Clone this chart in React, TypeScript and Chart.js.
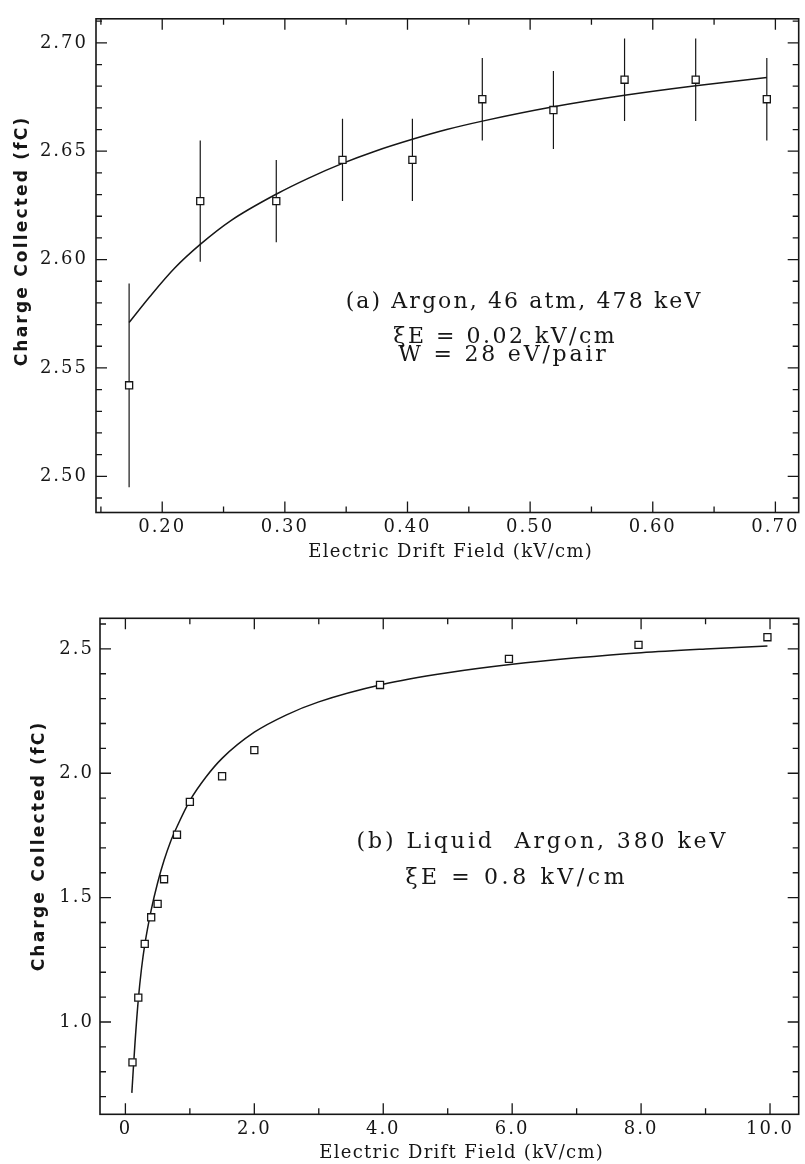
import React, { useEffect, useRef } from 'react';
import { Chart, registerables } from 'chart.js';

Chart.register(...registerables);

// ---------- Panel (a): Argon gas, 46 atm ----------
const A_FIELD = [0.173, 0.231, 0.293, 0.347, 0.404, 0.461, 0.519, 0.577, 0.635, 0.693];
const A_CHARGE = [2.542, 2.627, 2.627, 2.646, 2.646, 2.674, 2.669, 2.683, 2.683, 2.674];
const A_ERR = [0.047, 0.028, 0.019, 0.019, 0.019, 0.019, 0.018, 0.019, 0.019, 0.019];
const A_FIT_X = [0.173, 0.19, 0.21, 0.231, 0.256, 0.294, 0.319, 0.347, 0.373, 0.404, 0.432, 0.462, 0.519, 0.577, 0.635, 0.693];
const A_FIT_Y = [2.571, 2.583, 2.596, 2.607, 2.618, 2.6305, 2.6375, 2.6444, 2.6499, 2.6555, 2.66, 2.664, 2.6705, 2.6758, 2.6802, 2.684];
const A_X_TICKS = [0.2, 0.3, 0.4, 0.5, 0.6, 0.7];
const A_X_LABELS = ['0.20', '0.30', '0.40', '0.50', '0.60', '0.70'];
const A_X_MINOR = [0.15, 0.25, 0.35, 0.45, 0.55, 0.65];
const A_Y_TICKS = [2.5, 2.55, 2.6, 2.65, 2.7];
const A_Y_LABELS = ['2.50', '2.55', '2.60', '2.65', '2.70'];
const A_Y_MINOR = [2.49, 2.51, 2.52, 2.53, 2.54, 2.56, 2.57, 2.58, 2.59, 2.61, 2.62, 2.63, 2.64, 2.66, 2.67, 2.68, 2.69, 2.71];
const A_NOTE = ['(a) Argon, 46 atm, 478 keV', 'ξE = 0.02 kV/cm', 'W = 28 eV/pair'];

// ---------- Panel (b): Liquid argon ----------
const B_FIELD = [0.11, 0.2, 0.3, 0.4, 0.5, 0.6, 0.8, 1.0, 1.5, 2.0, 3.95, 5.95, 7.96, 9.96];
const B_CHARGE = [0.838, 1.098, 1.314, 1.421, 1.475, 1.574, 1.753, 1.885, 1.988, 2.093, 2.355, 2.46, 2.516, 2.547];
const B_FIT_X = [0.1, 0.12, 0.15, 0.2, 0.25, 0.3, 0.4, 0.5, 0.6, 0.7, 0.8, 1.0, 1.25, 1.5, 2.0, 2.5, 3.0, 4.0, 5.0, 6.0, 7.0, 8.0, 9.0, 9.96];
const B_FIT_Y = [0.715, 0.8, 0.92, 1.09, 1.215, 1.31, 1.45, 1.56, 1.65, 1.725, 1.785, 1.89, 1.985, 2.06, 2.165, 2.235, 2.287, 2.358, 2.404, 2.438, 2.464, 2.485, 2.5, 2.512];
const B_X_TICKS = [0, 2, 4, 6, 8, 10];
const B_X_LABELS = ['0', '2.0', '4.0', '6.0', '8.0', '10.0'];
const B_X_MINOR = [1, 3, 5, 7, 9];
const B_Y_TICKS = [1.0, 1.5, 2.0, 2.5];
const B_Y_LABELS = ['1.0', '1.5', '2.0', '2.5'];
const B_Y_MINOR = [0.7, 0.8, 0.9, 1.1, 1.2, 1.3, 1.4, 1.6, 1.7, 1.8, 1.9, 2.1, 2.2, 2.3, 2.4, 2.6];
const B_NOTE = ['(b) Liquid  Argon, 380 keV', 'ξE = 0.8 kV/cm'];

const Y_TITLE = 'Charge Collected (fC)';
const X_TITLE = 'Electric Drift Field (kV/cm)';

const INK = '#161616';
const SERIF = '"DejaVu Serif", serif';
const SANS = '"DejaVu Sans", sans-serif';
const W = 805;
const H = 582;

type TextItem = { text: string; x: number; y: number; font: string; spacing: number; rotate?: boolean };

type PanelCfg = {
  xMin: number; xMax: number; yMin: number; yMax: number;
  xTicks: number[]; xLabels: string[]; xMinor: number[];
  yTicks: number[]; yLabels: string[]; yMinor: number[];
  padTop: number; padRight: number; yWidth: number; xHeight: number;
  yPad: number; xPad: number;
  texts: TextItem[];
};

function makePaperPlugin(cfg: PanelCfg) {
  return {
    id: 'paper',
    beforeDraw(chart: any) {
      chart.ctx.letterSpacing = '2px';
    },
    afterDraw(chart: any) {
      const ctx = chart.ctx;
      const { left, right, top, bottom } = chart.chartArea;
      const xs = chart.scales.x;
      const ys = chart.scales.y;
      ctx.save();
      ctx.letterSpacing = '0px';
      ctx.strokeStyle = INK;
      ctx.lineWidth = 1.6;
      ctx.strokeRect(left, top, right - left, bottom - top);
      ctx.lineWidth = 1.3;
      ctx.beginPath();
      const tickX = (vals: number[], len: number) => vals.forEach((v) => {
        const p = xs.getPixelForValue(v);
        ctx.moveTo(p, bottom); ctx.lineTo(p, bottom - len);
        ctx.moveTo(p, top); ctx.lineTo(p, top + len);
      });
      const tickY = (vals: number[], len: number) => vals.forEach((v) => {
        const p = ys.getPixelForValue(v);
        ctx.moveTo(left, p); ctx.lineTo(left + len, p);
        ctx.moveTo(right, p); ctx.lineTo(right - len, p);
      });
      tickX(cfg.xTicks, 11); tickX(cfg.xMinor, 6);
      tickY(cfg.yTicks, 11); tickY(cfg.yMinor, 6);
      ctx.stroke();
      ctx.fillStyle = INK;
      ctx.textAlign = 'center';
      ctx.textBaseline = 'middle';
      for (const t of cfg.texts) {
        ctx.save();
        ctx.font = t.font;
        ctx.letterSpacing = t.spacing + 'px';
        if (t.rotate) {
          ctx.translate(t.x, t.y - t.spacing / 2);
          ctx.rotate(-Math.PI / 2);
        } else {
          ctx.translate(t.x + t.spacing / 2, t.y);
        }
        ctx.fillText(t.text, 0, 0);
        ctx.restore();
      }
      ctx.restore();
    },
  };
}

function pts(xs: number[], ys: number[]) {
  return xs.map((x, i) => ({ x, y: ys[i] }));
}

function errorBars(xs: number[], ys: number[], es: number[]) {
  const out: any[] = [];
  xs.forEach((x, i) => {
    out.push({ x, y: ys[i] - es[i] }, { x, y: ys[i] + es[i] }, { x, y: null });
  });
  return out;
}

function buildConfig(cfg: PanelCfg, datasets: any[]) {
  return {
    type: 'line',
    data: { datasets },
    plugins: [makePaperPlugin(cfg)],
    options: {
      responsive: false,
      animation: false,
      devicePixelRatio: 1,
      events: [],
      layout: { padding: { top: cfg.padTop, right: cfg.padRight, left: 0, bottom: 0 } },
      plugins: { legend: { display: false }, tooltip: { enabled: false }, title: { display: false } },
      scales: {
        x: {
          type: 'linear',
          min: cfg.xMin,
          max: cfg.xMax,
          grid: { display: false, drawTicks: false },
          border: { display: false },
          afterBuildTicks: (s: any) => { s.ticks = cfg.xTicks.map((v) => ({ value: v })); },
          afterFit: (s: any) => { s.height = cfg.xHeight; },
          ticks: {
            autoSkip: false,
            maxRotation: 0,
            minRotation: 0,
            padding: cfg.xPad,
            color: INK,
            font: { family: SERIF, size: 18 },
            callback: (_v: any, i: number) => cfg.xLabels[i],
          },
        },
        y: {
          type: 'linear',
          min: cfg.yMin,
          max: cfg.yMax,
          grid: { display: false, drawTicks: false },
          border: { display: false },
          afterBuildTicks: (s: any) => { s.ticks = cfg.yTicks.map((v) => ({ value: v })); },
          afterFit: (s: any) => { s.width = cfg.yWidth; },
          ticks: {
            autoSkip: false,
            padding: cfg.yPad,
            color: INK,
            font: { family: SERIF, size: 18 },
            callback: (_v: any, i: number) => cfg.yLabels[i],
          },
        },
      },
    },
  };
}

const markerStyle = {
  showLine: false,
  pointStyle: 'rect',
  pointRadius: 5,
  pointBorderWidth: 1.3,
  pointBorderColor: INK,
  pointBackgroundColor: '#ffffff',
  borderColor: INK,
  order: 0,
};

const curveStyle = {
  borderColor: INK,
  borderWidth: 1.5,
  pointRadius: 0,
  cubicInterpolationMode: 'monotone',
  fill: false,
  order: 1,
};

export default function App() {
  const refA = useRef<HTMLCanvasElement | null>(null);
  const refB = useRef<HTMLCanvasElement | null>(null);

  useEffect(() => {
    const cfgA: PanelCfg = {
      xMin: 0.146, xMax: 0.719, yMin: 2.4833, yMax: 2.7111,
      xTicks: A_X_TICKS, xLabels: A_X_LABELS, xMinor: A_X_MINOR,
      yTicks: A_Y_TICKS, yLabels: A_Y_LABELS, yMinor: A_Y_MINOR,
      padTop: 14, padRight: 5, yWidth: 96, xHeight: 69.5, yPad: 8, xPad: 4,
      texts: [
        { text: A_NOTE[0], x: 523, y: 302, font: `22px ${SERIF}`, spacing: 2.1 },
        { text: A_NOTE[1], x: 504, y: 337, font: `22px ${SERIF}`, spacing: 2.5 },
        { text: A_NOTE[2], x: 502, y: 355, font: `22px ${SERIF}`, spacing: 2.8 },
        { text: Y_TITLE, x: 23, y: 242, font: `bold 17px ${SANS}`, spacing: 2.2, rotate: true },
        { text: X_TITLE, x: 450, y: 552, font: `18px ${SERIF}`, spacing: 1.3 },
      ],
    };
    const cfgB: PanelCfg = {
      xMin: -0.394, xMax: 10.445, yMin: 0.629, yMax: 2.623,
      xTicks: B_X_TICKS, xLabels: B_X_LABELS, xMinor: B_X_MINOR,
      yTicks: B_Y_TICKS, yLabels: B_Y_LABELS, yMinor: B_Y_MINOR,
      padTop: 36.3, padRight: 3, yWidth: 100, xHeight: 49.7, yPad: 6, xPad: 4,
      texts: [
        { text: B_NOTE[0], x: 541, y: 260, font: `22px ${SERIF}`, spacing: 2.9 },
        { text: B_NOTE[1], x: 515, y: 296, font: `22px ${SERIF}`, spacing: 3.6 },
        { text: Y_TITLE, x: 40, y: 265, font: `bold 17px ${SANS}`, spacing: 2.2, rotate: true },
        { text: X_TITLE, x: 461, y: 571, font: `18px ${SERIF}`, spacing: 1.3 },
      ],
    };

    const chartA = new Chart(refA.current as HTMLCanvasElement, buildConfig(cfgA, [
      { ...markerStyle, data: pts(A_FIELD, A_CHARGE) },
      { ...curveStyle, data: pts(A_FIT_X, A_FIT_Y) },
      { borderColor: INK, borderWidth: 1.2, pointRadius: 0, spanGaps: false, order: 2, data: errorBars(A_FIELD, A_CHARGE, A_ERR) },
    ]) as any);
    const chartB = new Chart(refB.current as HTMLCanvasElement, buildConfig(cfgB, [
      { ...markerStyle, data: pts(B_FIELD, B_CHARGE) },
      { ...curveStyle, data: pts(B_FIT_X, B_FIT_Y) },
    ]) as any);
    return () => {
      chartA.destroy();
      chartB.destroy();
    };
  }, []);

  return (
    <div style={{ position: 'absolute', left: 0, top: 0, width: W, height: H * 2, background: '#ffffff' }}>
      <canvas ref={refA} width={W} height={H} style={{ position: 'absolute', left: 0, top: 0 }} />
      <canvas ref={refB} width={W} height={H} style={{ position: 'absolute', left: 0, top: H }} />
    </div>
  );
}
